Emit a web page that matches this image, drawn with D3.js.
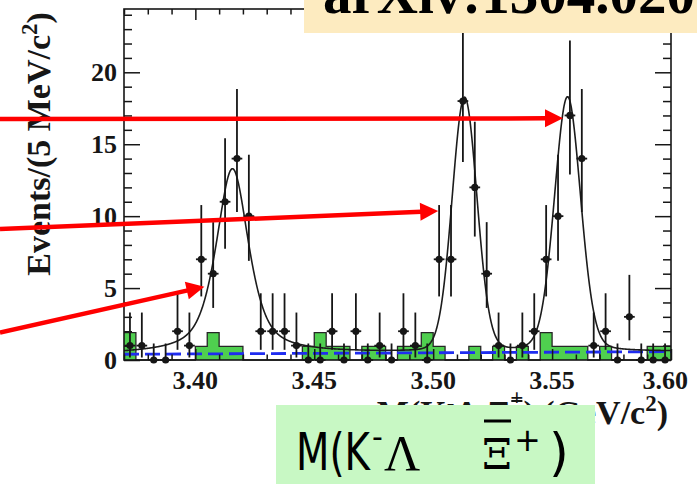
<!DOCTYPE html>
<html>
<head>
<meta charset="utf-8">
<script src="https://cdn.jsdelivr.net/npm/d3@7"></script>
<style>
  html, body { margin: 0; padding: 0; background: #fff; overflow: hidden; }
  svg { display: block; }
</style>
</head>
<body>
<svg id="chart" width="697" height="484"></svg>
<script>
// ---- data: M(K- Lambda anti-Xi+) spectrum, 5 MeV/c^2 bins from 3.37 to 3.60 GeV/c^2 ----
const binLow = 3.37;
const binWidth = 0.005;
const counts = [1, 1, 0, 0, 2, 1, 7, 6, 11, 14, 10, 2, 2, 2, 1, 0, 0, 2, 0, 2, 0, 1, 0, 2, 1, 0,
                7, 7, 18, 12, 6, 1, 0, 1, 2, 7, 10, 17, 14, 1, 2, 0, 3, 0, 0, 0];
// scaled sideband events (green histogram)
const sideband = [1.9, 0, 0, 0, 0, 0, 0.95, 1.9, 0.95, 0.95, 0, 0, 0, 0, 0, 0.95, 1.9, 0.95, 0.95, 0,
                  0.95, 0.95, 0, 0.95, 0.95, 1.9, 0.95, 0, 0, 0.95, 0, 0.95, 0, 0.95, 0, 1.9, 0.95,
                  0.95, 0.95, 0, 0.95, 0, 0, 0, 0.95, 0.95];
// 68.3% Poisson intervals, indexed by the observed count
const poissonLow  = [0, 0.173, 0.708, 1.367, 2.086, 2.840, 3.620, 4.419, 5.232, 6.057, 6.891,
                     7.732, 8.581, 9.435, 10.293, 11.156, 12.022, 12.891, 13.762];
const poissonHigh = [1.148, 3.299, 4.638, 5.918, 7.163, 8.383, 9.584, 10.771, 11.946, 13.112, 14.270,
                     15.420, 16.564, 17.703, 18.837, 19.967, 21.092, 22.215, 23.333];
// fitted signal peaks (chi_c0, chi_c1, chi_c2)
const peakMass   = [3.4156, 3.5132, 3.5565];
const peakGamma  = [0.0105, 0.0010, 0.0019];
const peakSigma  = [0.0040, 0.0050, 0.0051];
const peakHeight = [12.85, 17.65, 17.7];
// linear background at the two ends of the range
const bkgMass  = [3.37, 3.60];
const bkgLevel = [0.40, 0.58];
// axis ticks
const xTicks = [3.40, 3.45, 3.50, 3.55, 3.60];
const xTickLabels = ["3.40", "3.45", "3.50", "3.55", "3.60"];
const yTicks = [0, 5, 10, 15, 20];
const yTickLabels = ["0", "5", "10", "15", "20"];
// annotation arrows: tip in (mass, events), tail at the left page edge (events)
const arrowTip = [[3.5546, 16.8], [3.5021, 10.35], [3.4038, 5.1]];
const arrowTailEvents = [16.75, 9.1, 1.9];

// ---- layout ----
const W = 697, H = 484;
const frame = { left: 124, right: 671, top: 9, bottom: 360 };
const serif = "'Liberation Serif', 'Times New Roman', serif";
const sans = "'DejaVu Sans', sans-serif";
const ink = "#161616";

const svg = d3.select("#chart");
svg.append("rect").attr("width", W).attr("height", H).attr("fill", "#fff");

const x = d3.scaleLinear().domain([3.37, 3.60]).range([frame.left, frame.right]);
const y = d3.scaleLinear().domain([0, 24.4]).range([frame.bottom, frame.top]);

svg.append("defs").append("clipPath").attr("id", "plotClip").append("rect")
  .attr("x", frame.left).attr("y", frame.top)
  .attr("width", frame.right - frame.left).attr("height", frame.bottom - frame.top);

// ---- sideband histogram ----
const edges = d3.range(sideband.length + 1).map(i => binLow + i * binWidth);
const sbPts = edges.map((e, i) => [e, sideband[Math.min(i, sideband.length - 1)]]);
svg.append("path").datum(sbPts)
  .attr("d", d3.area().x(d => x(d[0])).y0(y(0)).y1(d => y(d[1])).curve(d3.curveStepAfter))
  .attr("fill", "#4fcf4f");
svg.append("path").datum(sbPts)
  .attr("d", d3.line().x(d => x(d[0])).y(d => y(d[1])).curve(d3.curveStepAfter))
  .attr("fill", "none").attr("stroke", "#262626").attr("stroke-width", 1.3);

// ---- background (blue dashed) ----
const bkg = m => bkgLevel[0] + (bkgLevel[1] - bkgLevel[0]) * (m - bkgMass[0]) / (bkgMass[1] - bkgMass[0]);
svg.append("path").datum(bkgMass.map((m, i) => [m, bkgLevel[i]]))
  .attr("d", d3.line().x(d => x(d[0])).y(d => y(d[1])))
  .attr("fill", "none").attr("stroke", "#1f2cf0").attr("stroke-width", 2.8)
  .attr("stroke-dasharray", "15,6");

// ---- total fit: background + three pseudo-Voigt peaks ----
function voigt(d, gamma, sigma) {
  const fG = 2 * sigma * Math.sqrt(2 * Math.LN2), fL = gamma;
  const f = Math.pow(Math.pow(fG, 5) + 2.69269 * Math.pow(fG, 4) * fL + 2.42843 * Math.pow(fG, 3) * fL * fL +
            4.47163 * fG * fG * Math.pow(fL, 3) + 0.07842 * fG * Math.pow(fL, 4) + Math.pow(fL, 5), 0.2);
  const r = fL / f;
  const eta = 1.36603 * r - 0.47719 * r * r + 0.11116 * r * r * r;
  const L = (2 / (Math.PI * f)) / (1 + Math.pow(2 * d / f, 2));
  const G = (2 / f) * Math.sqrt(Math.LN2 / Math.PI) * Math.exp(-4 * Math.LN2 * d * d / (f * f));
  return eta * L + (1 - eta) * G;
}
const fitModel = m => bkg(m) + d3.sum(peakMass, (pm, i) =>
  peakHeight[i] * voigt(m - pm, peakGamma[i], peakSigma[i]) / voigt(0, peakGamma[i], peakSigma[i]));
const fitPts = d3.range(0, 2301).map(k => 3.37 + k * 0.0001).map(m => [m, fitModel(m)]);
svg.append("path").datum(fitPts)
  .attr("clip-path", "url(#plotClip)")
  .attr("d", d3.line().x(d => x(d[0])).y(d => y(d[1])))
  .attr("fill", "none").attr("stroke", "#1c1c1c").attr("stroke-width", 1.6);

// ---- data points with Poisson errors ----
const pts = counts.map((n, i) => ({ m: binLow + (i + 0.5) * binWidth, n }));
const dataG = svg.append("g");
dataG.selectAll("line.ey").data(pts).join("line").attr("class", "ey")
  .attr("x1", d => x(d.m)).attr("x2", d => x(d.m))
  .attr("y1", d => y(poissonLow[d.n])).attr("y2", d => y(poissonHigh[d.n]))
  .attr("stroke", ink).attr("stroke-width", 1.8);
dataG.selectAll("line.ex").data(pts).join("line").attr("class", "ex")
  .attr("x1", d => x(d.m - binWidth * 0.45)).attr("x2", d => x(d.m + binWidth * 0.45))
  .attr("y1", d => y(d.n)).attr("y2", d => y(d.n))
  .attr("stroke", ink).attr("stroke-width", 1.8);
dataG.selectAll("circle").data(pts).join("circle")
  .attr("cx", d => x(d.m)).attr("cy", d => y(d.n)).attr("r", 3.6).attr("fill", ink);

// ---- axes (ticks pointing inwards on all four sides) ----
const xMinor = d3.range(337, 361).map(i => i / 100).filter(v => !xTicks.some(t => Math.abs(t - v) < 1e-6));
const yMinor = d3.range(0, 25).filter(v => !yTicks.includes(v));
function drawAxis(axis, tx, ty) {
  const g = svg.append("g").attr("transform", `translate(${tx},${ty})`).call(axis);
  g.select(".domain").remove();
  g.selectAll("line").attr("stroke", ink).attr("stroke-width", 1.5);
  g.selectAll("text").remove();
}
drawAxis(d3.axisBottom(x).tickValues(xTicks).tickSizeInner(-11).tickSizeOuter(0), 0, frame.bottom);
drawAxis(d3.axisBottom(x).tickValues(xMinor).tickSizeInner(-5.5).tickSizeOuter(0), 0, frame.bottom);
drawAxis(d3.axisTop(x).tickValues(xTicks).tickSizeInner(-11).tickSizeOuter(0), 0, frame.top);
drawAxis(d3.axisTop(x).tickValues(xMinor).tickSizeInner(-5.5).tickSizeOuter(0), 0, frame.top);
drawAxis(d3.axisLeft(y).tickValues(yTicks).tickSizeInner(-16).tickSizeOuter(0), frame.left, 0);
drawAxis(d3.axisLeft(y).tickValues(yMinor).tickSizeInner(-8).tickSizeOuter(0), frame.left, 0);
drawAxis(d3.axisRight(y).tickValues(yTicks).tickSizeInner(-16).tickSizeOuter(0), frame.right, 0);
drawAxis(d3.axisRight(y).tickValues(yMinor).tickSizeInner(-8).tickSizeOuter(0), frame.right, 0);
svg.append("rect").attr("x", frame.left).attr("y", frame.top)
  .attr("width", frame.right - frame.left).attr("height", frame.bottom - frame.top)
  .attr("fill", "none").attr("stroke", ink).attr("stroke-width", 1.6);

// tick labels (the last x label is kept inside the page margin)
svg.selectAll("text.xl").data(xTicks).join("text").attr("class", "xl")
  .attr("y", 389).attr("text-anchor", "middle")
  .attr("font-family", serif).attr("font-weight", "bold").attr("font-size", 26).attr("fill", ink)
  .text((d, i) => xTickLabels[i])
  .attr("x", function (d) { return Math.min(x(d), W - 9 - this.getComputedTextLength() / 2); });
svg.selectAll("text.yl").data(yTicks).join("text").attr("class", "yl")
  .attr("x", 117).attr("y", d => y(d) + 9).attr("text-anchor", "end")
  .attr("font-family", serif).attr("font-weight", "bold").attr("font-size", 26).attr("fill", ink)
  .text((d, i) => yTickLabels[i]);

// y-axis title
const yt = svg.append("text").attr("transform", "translate(50,144) rotate(-90)")
  .attr("text-anchor", "middle").attr("font-family", serif).attr("font-weight", "bold")
  .attr("font-size", 34).attr("fill", ink);
yt.append("tspan").text("Events/(5 MeV/c");
yt.append("tspan").attr("dy", -13).attr("font-size", 23).text("2");
yt.append("tspan").attr("dy", 13).text(")");

// x-axis title
const xt = svg.append("text").attr("x", 668).attr("y", 424).attr("text-anchor", "end")
  .attr("font-family", serif).attr("font-weight", "bold").attr("font-size", 34).attr("fill", ink);
xt.append("tspan").text("M(K");
xt.append("tspan").attr("dy", -13).attr("font-size", 23).text("-");
xt.append("tspan").attr("dy", 13).text("Λ Ξ");
xt.append("tspan").attr("dy", -19).attr("font-size", 23).text("+");
xt.append("tspan").attr("dy", 19).text(") (GeV/c");
xt.append("tspan").attr("dy", -13).attr("font-size", 23).text("2");
xt.append("tspan").attr("dy", 13).text(")");
const xiBox = xt.node().getExtentOfChar(7);
svg.append("line").attr("x1", xiBox.x + 1).attr("x2", xiBox.x + xiBox.width - 1)
  .attr("y1", 401).attr("y2", 401).attr("stroke", ink).attr("stroke-width", 2);

// ---- reference box (top right) ----
svg.append("rect").attr("x", 304).attr("y", -5).attr("width", 400).attr("height", 38).attr("fill", "#fdebc0");
svg.append("text").attr("x", 323).attr("y", 13).attr("font-family", serif).attr("font-weight", "bold")
  .attr("font-size", 57).attr("fill", "#000").text("arXiv:1304.0202");

// ---- label box (bottom) ----
svg.append("rect").attr("x", 276).attr("y", 405).attr("width", 319).attr("height", 82).attr("fill", "#c8f8c4");
const lab = svg.append("g").attr("fill", "#000");
lab.append("text").attr("transform", "translate(296,470) scale(0.76,1)")
  .attr("font-family", sans).attr("font-size", 51).text("M(K");
lab.append("text").attr("x", 372).attr("y", 447)
  .attr("font-family", sans).attr("font-size", 30).text("-");
lab.append("text").attr("x", 384).attr("y", 470)
  .attr("font-family", serif).attr("font-size", 50).text("Λ");
lab.append("text").attr("x", 482).attr("y", 469)
  .attr("font-family", "'DejaVu Serif', serif").attr("font-size", 42)
  .attr("textLength", 30).attr("lengthAdjust", "spacingAndGlyphs").text("Ξ");
lab.append("line").attr("x1", 484).attr("x2", 511).attr("y1", 421).attr("y2", 421)
  .attr("stroke", "#000").attr("stroke-width", 3);
lab.append("text").attr("x", 514).attr("y", 451)
  .attr("font-family", sans).attr("font-size", 32).text("+");
lab.append("text").attr("x", 549).attr("y", 470)
  .attr("font-family", sans).attr("font-size", 51).text(")");

// ---- red annotation arrows ----
const arrowG = svg.append("g");
arrowTip.forEach((tip, i) => {
  const x1 = 0, y1 = y(arrowTailEvents[i]);
  const x2 = x(tip[0]), y2 = y(tip[1]);
  const ang = Math.atan2(y2 - y1, x2 - x1);
  const headLen = 18, headHalf = 9;
  const bx = x2 - headLen * Math.cos(ang), by = y2 - headLen * Math.sin(ang);
  arrowG.append("line").attr("x1", x1).attr("y1", y1).attr("x2", bx + Math.cos(ang)).attr("y2", by + Math.sin(ang))
    .attr("stroke", "#ff0000").attr("stroke-width", 4.5);
  const px = -Math.sin(ang), py = Math.cos(ang);
  arrowG.append("polygon")
    .attr("points", [[x2, y2], [bx + headHalf * px, by + headHalf * py], [bx - headHalf * px, by - headHalf * py]]
      .map(p => p.join(",")).join(" "))
    .attr("fill", "#ff0000");
});
</script>
</body>
</html>
